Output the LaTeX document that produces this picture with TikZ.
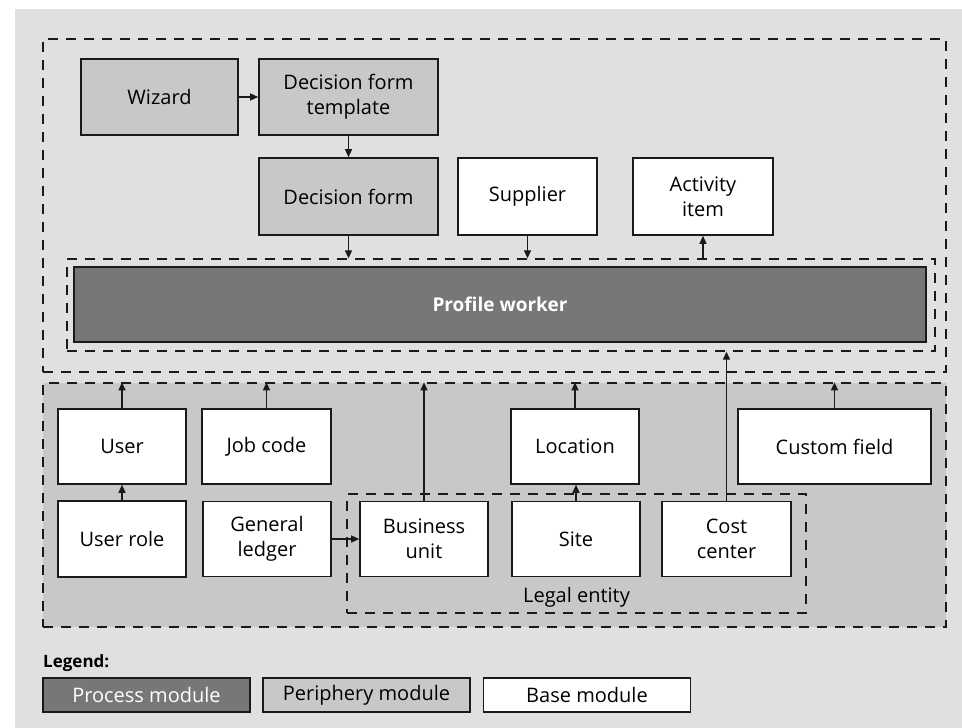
\documentclass[tikz,border=0pt]{standalone}
\usepackage{fontspec}
\setmainfont{Open Sans}
\usetikzlibrary{arrows.meta}
\definecolor{bgc}{HTML}{E0E0E0}
\definecolor{lowc}{HTML}{C8C8C8}
\definecolor{perc}{HTML}{C8C8C8}
\definecolor{proc}{HTML}{777777}
\definecolor{linec}{HTML}{1A1A1A}
\tikzset{
  mod/.style={draw=linec, line width=1.6pt, inner sep=0pt, align=center,
    font=\fontsize{20}{25}\selectfont, text=black},
  basemod/.style={mod, fill=white},
  perimod/.style={mod, fill=perc},
  procmod/.style={mod, fill=proc, text=white},
  grp/.style={draw=linec, line width=1.3pt, dash pattern=on 10pt off 8pt, inner sep=0pt},
  conn/.style={draw=linec, line width=1.3pt, -{Triangle[length=8pt,width=7pt]}},
  lbl/.style={font=\fontsize{20}{25}\selectfont, inner sep=0pt},
}
\begin{document}
\begin{tikzpicture}[x=1pt,y=-1pt]
\useasboundingbox (0,0) rectangle (962,728);
\fill[bgc] (15,9) rectangle (962,728);
% containers
\node[grp, minimum width=903pt, minimum height=333pt] (top) at (494.5,205.5) {};
\node[grp, fill=lowc, minimum width=903pt, minimum height=244pt] (lower) at (494.5,505) {};
\node[grp, minimum width=868pt, minimum height=92pt] (pwg) at (501,305) {};
\node[grp, minimum width=459pt, minimum height=119pt] (legal) at (576.5,553.5) {};
\node[lbl, anchor=base] (legallbl) at (576.5,602) {Legal entity};
% top modules
\node[perimod, minimum width=157pt, minimum height=76pt] (wiz) at (159.5,97) {Wizard};
\node[perimod, minimum width=179pt, minimum height=76pt] (dft) at (348.5,97) {Decision form\\template};
\node[perimod, minimum width=179pt, minimum height=77pt] (df) at (348.5,196.5) {Decision form};
\node[basemod, minimum width=139pt, minimum height=77pt] (sup) at (527.5,196.5) {Supplier};
\node[basemod, minimum width=140pt, minimum height=77pt] (act) at (703,196.5) {Activity\\item};
\node[procmod, minimum width=852pt, minimum height=75pt, font=\bfseries\fontsize{19}{24}\selectfont] (pw) at (500,304.5) {Profile worker};
% lower modules
\node[basemod, minimum width=128pt, minimum height=75pt] (user) at (122,446.5) {User};
\node[basemod, minimum width=129pt, minimum height=75pt] (job) at (266.5,446.5) {Job code};
\node[basemod, minimum width=128pt, minimum height=75pt] (loc) at (575,446.5) {Location};
\node[basemod, minimum width=193pt, minimum height=75pt] (cust) at (834.5,446.5) {Custom field};
\node[basemod, minimum width=128pt, minimum height=76pt] (role) at (122,539) {User role};
\node[basemod, minimum width=128pt, minimum height=75pt] (gl) at (267,539) {General\\ledger};
\node[basemod, minimum width=128pt, minimum height=75pt] (bu) at (424,539) {Business\\unit};
\node[basemod, minimum width=128pt, minimum height=75pt] (site) at (576,539) {Site};
\node[basemod, minimum width=129pt, minimum height=75pt] (cc) at (726.5,539) {Cost\\center};
% connectors
\draw[conn] (wiz) -- (dft);
\draw[conn] (dft) -- (df);
\draw[conn] (df.south) -- (df.south |- pwg.north);
\draw[conn] (sup.south) -- (sup.south |- pwg.north);
\draw[conn] (act.south |- pwg.north) -- (act.south);
\draw[conn] (user.north) -- (user.north |- lower.north);
\draw[conn] (job.north) -- (job.north |- lower.north);
\draw[conn] (bu.north) -- (bu.north |- lower.north);
\draw[conn] (loc.north) -- (loc.north |- lower.north);
\draw[conn] (cust.north) -- (cust.north |- lower.north);
\draw[conn] (cc.north) -- (cc.north |- pwg.south);
\draw[conn] (role) -- (user);
\draw[conn] (site.north) -- (site.north |- loc.south);
\draw[conn] (gl) -- (bu);
% legend
\node[anchor=base west, inner sep=0pt, font=\bfseries\fontsize{17}{20}\selectfont] (leg) at (43,667) {Legend:};
\node[procmod, line width=1.3pt, minimum width=207pt, minimum height=34pt] (lproc) at (146.5,695) {Process module};
\node[perimod, line width=1.3pt, minimum width=207pt, minimum height=34pt] (lperi) at (366.5,695) {Periphery module};
\node[basemod, line width=1.3pt, minimum width=207pt, minimum height=34pt] (lbase) at (587,695) {Base module};
\end{tikzpicture}
\end{document}
